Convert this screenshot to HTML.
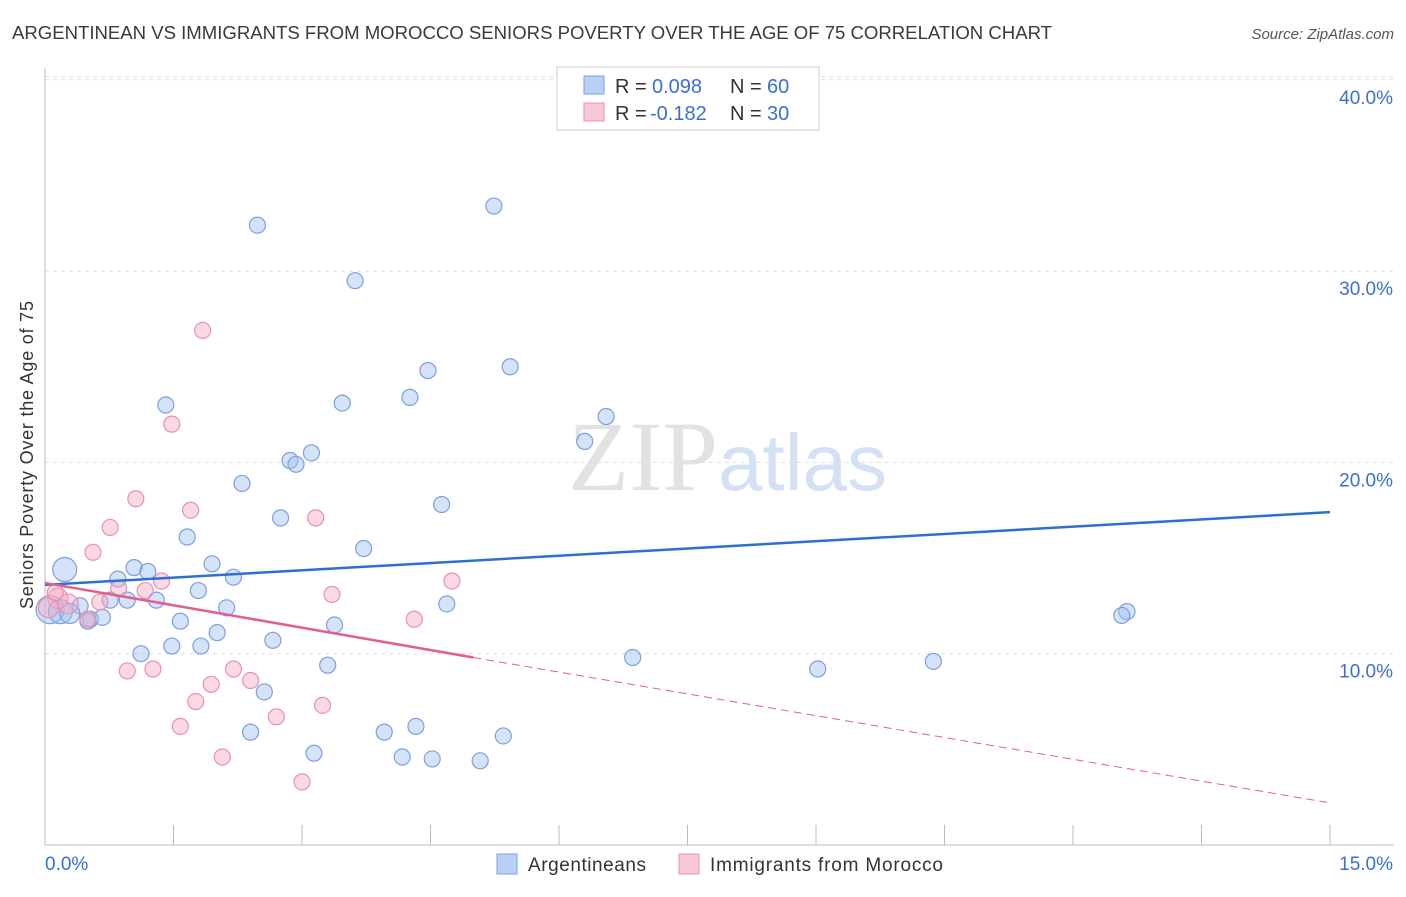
<!DOCTYPE html>
<html><head><meta charset="utf-8"><style>
body{margin:0;background:#fff;font-family:"Liberation Sans",sans-serif}
</style></head><body>
<svg width="1406" height="892" viewBox="0 0 1406 892" xmlns="http://www.w3.org/2000/svg" font-family="Liberation Sans, sans-serif">
<text x="12" y="39" font-size="18.6" fill="#3a3a3a" textLength="1040">ARGENTINEAN VS IMMIGRANTS FROM MOROCCO SENIORS POVERTY OVER THE AGE OF 75 CORRELATION CHART</text>
<text x="1394" y="39" font-size="15" fill="#555" text-anchor="end" font-style="italic">Source: ZipAtlas.com</text>
<g id="grid"></g>
<text x="718" y="490" font-size="100" fill="#e2e2e2" text-anchor="end" font-family="Liberation Serif, serif">ZIP</text>
<text x="718" y="490" font-size="80" fill="#d4e0f3">atlas</text>
<g id="axes"></g>
<g id="marks"></g>
<text transform="translate(33,455) rotate(-90)" font-size="18" fill="#333" text-anchor="middle" textLength="308">Seniors Poverty Over the Age of 75</text>
<g>
<rect x="557" y="67" width="262" height="63" fill="#fff" stroke="#ccc"/>
<rect x="584" y="76" width="20" height="18" fill="#b8d0f5" stroke="#7aa0e0"/>
<rect x="584" y="103" width="20" height="18" fill="#f9c8d8" stroke="#e890b0"/>
<text x="615" y="93" font-size="20" fill="#333">R =</text>
<text x="652" y="93" font-size="20" fill="#3a6fd0">0.098</text>
<text x="730" y="93" font-size="20" fill="#333">N =</text>
<text x="767" y="93" font-size="20" fill="#3a6fd0">60</text>
<text x="615" y="120" font-size="20" fill="#333">R =</text>
<text x="650" y="120" font-size="20" fill="#3a6fd0">-0.182</text>
<text x="730" y="120" font-size="20" fill="#333">N =</text>
<text x="767" y="120" font-size="20" fill="#3a6fd0">30</text>
</g>
<g>
<rect x="497" y="854" width="20" height="20" fill="#b8d0f5" stroke="#7aa0e0"/>
<text x="528" y="871" font-size="19" fill="#333" textLength="118">Argentineans</text>
<rect x="679" y="854" width="20" height="20" fill="#f9c8d8" stroke="#e890b0"/>
<text x="710" y="871" font-size="19" fill="#333" textLength="233">Immigrants from Morocco</text>
</g>
</svg>
<script>
const yTicks=[10,20,30,40];
const yTickLabels=["10.0%","20.0%","30.0%","40.0%"];
const xTicks=[0,1.5,3,4.5,6,7.5,9,10.5,12,13.5,15];
const blueX=[2.48,5.24,7.95,3.62,5.43,4.47,1.41,3.47,4.26,6.55,6.30,3.11,2.86,2.93,2.30,4.63,2.75,1.66,3.72,1.95,0.23,1.04,1.20,0.85,2.20,1.79,0.76,0.96,1.30,0.41,0.06,0.18,0.29,0.53,0.67,2.12,4.69,1.58,3.38,12.63,12.57,2.01,2.66,1.12,1.48,1.82,6.86,3.30,10.37,9.02,2.56,4.33,3.96,2.40,5.35,3.14,4.17,4.52,5.08,0.50];
const blueY=[32.4,33.4,38.8,29.5,25.0,24.8,23.0,23.1,23.4,22.4,21.1,20.5,20.1,19.9,18.9,17.8,17.1,16.1,15.5,14.7,14.4,14.5,14.3,13.9,14.0,13.3,12.8,12.8,12.8,12.5,12.3,12.2,12.1,11.8,11.9,12.4,12.6,11.7,11.5,12.2,12.0,11.1,10.7,10.0,10.4,10.4,9.8,9.4,9.6,9.2,8.0,6.2,5.9,5.9,5.7,4.8,4.6,4.5,4.4,11.7];
const blueR=[8,8,8,8,8,8,8,8,8,8,8,8,8,8,8,8,8,8,8,8,12,8,8,8,8,8,8,8,8,8,14,12,10,8,8,8,8,8,8,8,8,8,8,8,8,8,8,8,8,8,8,8,8,8,8,8,8,8,8,8];
const pinkX=[1.84,1.48,1.06,1.70,0.76,3.16,0.56,1.36,0.86,1.17,4.75,3.35,0.15,0.27,0.64,0.04,4.31,0.50,2.20,0.96,1.26,1.94,2.40,1.76,3.24,2.70,1.58,2.07,3.00,0.12];
const pinkY=[26.9,22.0,18.1,17.5,16.6,17.1,15.3,13.8,13.4,13.3,13.8,13.1,12.9,12.6,12.7,12.4,11.8,11.8,9.2,9.1,9.2,8.4,8.6,7.5,7.3,6.7,6.2,4.6,3.3,13.2];
const pinkR=[8,8,8,8,8,8,8,8,8,8,8,8,10,10,8,10,8,8,8,8,8,8,8,8,8,8,8,8,8,8];
const X0=45,X1=1330,Y0=845;
const sx=v=>X0+(X1-X0)*v/15;
const sy=v=>Y0-v*19.13;
const NS="http://www.w3.org/2000/svg";
function mk(p,t,a){const e=document.createElementNS(NS,t);for(const k in a)e.setAttribute(k,a[k]);p.appendChild(e);return e;}
const grid=document.getElementById('grid'),axes=document.getElementById('axes'),marks=document.getElementById('marks');
yTicks.forEach((t,i)=>{
 const l=mk(grid,'line',{x1:X0,x2:1394,y1:sy(t),y2:sy(t),stroke:'#ddd','stroke-dasharray':'4,4'});
 
 
 const tx=mk(axes,'text',{x:1393,y:sy(t)+24,'font-size':19,fill:'#3a6fd0','text-anchor':'end'});
 tx.textContent=yTickLabels[i];
 
 
});
const tl=mk(grid,'line',{x1:X0,x2:1394,y1:sy(40)-3,y2:sy(40)-3,stroke:'#ddd','stroke-dasharray':'4,4'});


const ya=mk(axes,'line',{x1:X0,x2:X0,y1:68,y2:Y0,stroke:'#bbb'});


const xa=mk(axes,'line',{x1:X0,x2:1394,y1:Y0,y2:Y0,stroke:'#bbb'});


xTicks.forEach(t=>{
 const l=mk(axes,'line',{x1:sx(t),x2:sx(t),y1:Y0,y2:Y0-20,stroke:'#bbb'});
 
 
});
const xl0=mk(axes,'text',{x:45,y:870,'font-size':19,fill:'#3a6fd0'});xl0.textContent='0.0%';


const xl1=mk(axes,'text',{x:1393,y:870,'font-size':19,fill:'#3a6fd0','text-anchor':'end'});xl1.textContent='15.0%';


blueX.forEach((v,i)=>{
 const c=mk(marks,'circle',{cx:sx(v),cy:sy(blueY[i]),r:blueR[i],fill:'rgba(160,192,240,0.45)',stroke:'#7aa0e0','stroke-width':1.2});
 
 
});
pinkX.forEach((v,i)=>{
 const c=mk(marks,'circle',{cx:sx(v),cy:sy(pinkY[i]),r:pinkR[i],fill:'rgba(245,170,195,0.45)',stroke:'#e890b0','stroke-width':1.2});
 
 
});
const bt=mk(marks,'line',{x1:sx(0),y1:sy(13.6),x2:sx(15),y2:sy(17.4),stroke:'#2f6fd0','stroke-width':2.5});


const pt=mk(marks,'line',{x1:sx(0),y1:sy(13.7),x2:sx(5.0),y2:sy(9.8),stroke:'#e0608a','stroke-width':2.5});


const pd=mk(marks,'line',{x1:sx(5.0),y1:sy(9.8),x2:sx(15),y2:sy(2.2),stroke:'#e0608a','stroke-width':1,'stroke-dasharray':'8,5'});


</script>
</body></html>
